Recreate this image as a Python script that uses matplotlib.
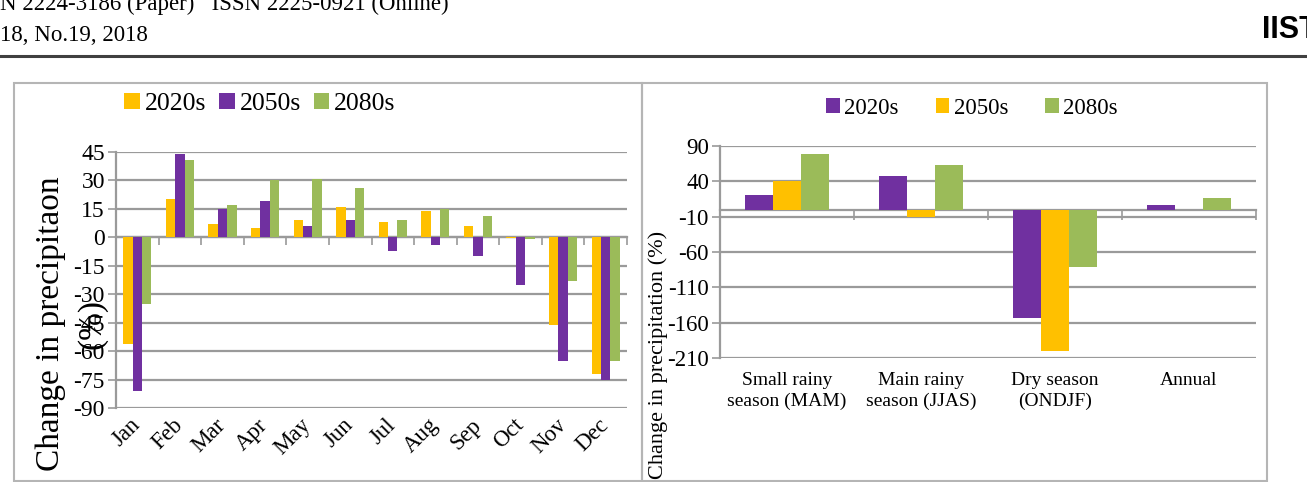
import numpy as np
import matplotlib
matplotlib.use("Agg")
import matplotlib.pyplot as plt
from matplotlib.lines import Line2D
from matplotlib.patches import Rectangle

plt.rcParams['font.family'] = ['Liberation Serif', 'DejaVu Serif']
plt.rcParams['axes.unicode_minus'] = False

# ---- data: monthly change in precipitation (%) ----
months = ['Jan', 'Feb', 'Mar', 'Apr', 'May', 'Jun',
          'Jul', 'Aug', 'Sep', 'Oct', 'Nov', 'Dec']
m_2020s = [-56, 20, 7, 5, 9, 16, 8, 14, 6, -0.5, -46, -72]
m_2050s = [-81, 44, 15, 19, 6, 9, -7, -4, -10, -25, -65, -75]
m_2080s = [-35, 41, 17, 30, 31, 26, 9, 15, 11, -1, -23, -65]
m_ticks = [45, 30, 15, 0, -15, -30, -45, -60, -75, -90]

# ---- data: seasonal change in precipitation (%) ----
seasons = ['Small rainy\nseason (MAM)', 'Main rainy\nseason (JJAS)',
           'Dry season\n(ONDJF)', 'Annual']
s_2020s = [21, 47, -154, 6]
s_2050s = [41, -11, -200, 0]
s_2080s = [79, 63, -81, 16]
s_ticks = [90, 40, -10, -60, -110, -160, -210]

YELLOW = '#FFC000'
PURPLE = '#7030A0'
GREEN = '#9BBB59'
GRID = '#9a9a9a'

W, H = 1307, 482
fig = plt.figure(figsize=(W / 100, H / 100), dpi=100)

def fx(px):
    return px / W

def fy(py):
    return 1 - py / H

# page header (scanned journal page)
fig.text(0, fy(10), 'N 2224-3186 (Paper)   ISSN 2225-0921 (Online)',
         fontsize=16.5, va='baseline', ha='left')
fig.text(0, fy(41), '18, No.19, 2018', fontsize=16.5, va='baseline', ha='left')
fig.text(fx(1262), fy(38), 'IISTE', fontsize=22, fontweight='bold',
         family='Liberation Sans', va='baseline', ha='left')
fig.add_artist(Line2D([0, 1], [fy(56), fy(56)], transform=fig.transFigure,
                      color='#404040', lw=2.2))

# panel frames
for x0, x1 in [(14, 642), (642, 1267)]:
    fig.add_artist(Rectangle((fx(x0), fy(481)), fx(x1 - x0), fy(83) - fy(481),
                             transform=fig.transFigure, fill=False,
                             edgecolor='#b5b5b5', lw=1.5))


def style_axes(ax, ticks, fs):
    ax.set_yticks(ticks)
    ax.set_ylim(min(ticks), max(ticks))
    ax.yaxis.grid(True, color=GRID, lw=1.6)
    ax.set_axisbelow(True)
    for s in ['top', 'right', 'bottom']:
        ax.spines[s].set_visible(False)
    ax.spines['left'].set_color(GRID)
    ax.spines['left'].set_linewidth(1.6)
    ax.tick_params(axis='y', length=6, width=1.2, color=GRID,
                   labelsize=fs, pad=2)
    ax.tick_params(axis='x', length=0)
    ax.set_facecolor('none')


def zero_axis(ax, n, ticks, ln):
    lo, hi = min(ticks), max(ticks)
    sec = ax.secondary_xaxis((0 - lo) / (hi - lo))
    sec.set_xticks(np.arange(n + 1) - 0.5)
    sec.tick_params(direction='in', length=ln, width=1.2, color=GRID,
                    labeltop=False, labelbottom=False)
    for s in ['top', 'bottom']:
        sec.spines[s].set_color(GRID)
        sec.spines[s].set_linewidth(1.6)


# ---- left panel: monthly ----
ax1 = fig.add_axes([fx(116), fy(408), fx(627 - 116), fy(152) - fy(408)])
x = np.arange(len(months))
bw = 0.22
b1 = ax1.bar(x - bw, m_2020s, bw, color=YELLOW, label='2020s')
b2 = ax1.bar(x, m_2050s, bw, color=PURPLE, label='2050s')
b3 = ax1.bar(x + bw, m_2080s, bw, color=GREEN, label='2080s')
ax1.set_xlim(-0.5, len(months) - 0.5)
style_axes(ax1, m_ticks, 17)
ax1.set_xticks(x)
ax1.set_xticklabels(months, rotation=45, ha='right', va='center',
                    rotation_mode='anchor', fontsize=16.5)
ax1.tick_params(axis='x', pad=10)
zero_axis(ax1, len(months), m_ticks, 6)
ax1.text(-0.087, 0.33, 'Change in precipitaon\n(%)', transform=ax1.transAxes,
         rotation=90, ha='center', va='center', fontsize=24,
         linespacing=1.45, multialignment='center')
fig.legend(handles=[b1, b2, b3], loc='center', ncol=3,
           bbox_to_anchor=(fx(260), fy(104)), frameon=False, fontsize=18.5,
           handlelength=0.6, handleheight=0.6, handletextpad=0.2,
           columnspacing=0.5)

# ---- right panel: seasonal ----
ax2 = fig.add_axes([fx(720), fy(358), fx(1256 - 720), fy(146) - fy(358)])
xs = np.arange(len(seasons))
bw2 = 0.21
c1 = ax2.bar(xs - bw2, s_2020s, bw2, color=PURPLE, label='2020s')
c2 = ax2.bar(xs, s_2050s, bw2, color=YELLOW, label='2050s')
c3 = ax2.bar(xs + bw2, s_2080s, bw2, color=GREEN, label='2080s')
ax2.set_xlim(-0.5, len(seasons) - 0.5)
style_axes(ax2, s_ticks, 16.5)
ax2.set_xticks(xs)
ax2.set_xticklabels(seasons, fontsize=14, linespacing=1.25)
ax2.tick_params(axis='x', pad=10)
zero_axis(ax2, len(seasons), s_ticks, 7)
ax2.text(-0.116, 0.015, 'Change in precipitation (%)', transform=ax2.transAxes,
         rotation=90, ha='center', va='center', fontsize=16)
fig.legend(handles=[c1, c2, c3], loc='center', ncol=3,
           bbox_to_anchor=(fx(972), fy(108)), frameon=False, fontsize=16.5,
           handlelength=0.6, handleheight=0.6, handletextpad=0.2,
           columnspacing=1.6)

fig.savefig('out.png', dpi=100)
